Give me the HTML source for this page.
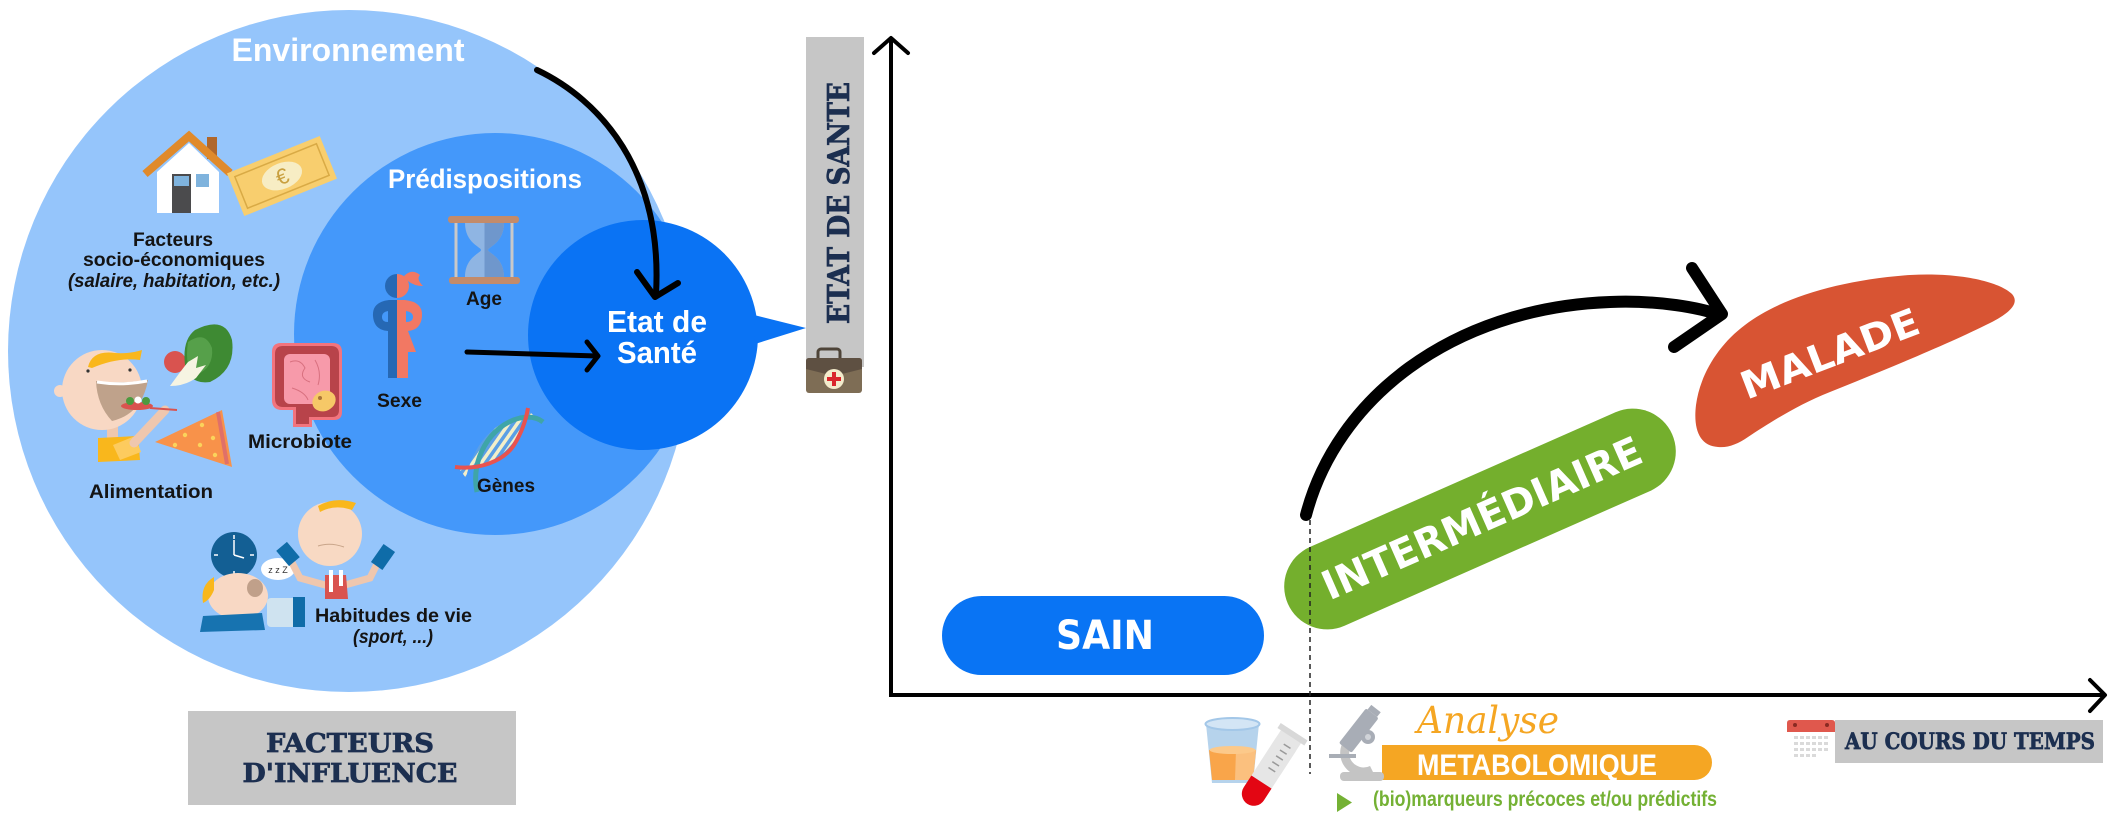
<!DOCTYPE html>
<html><head><meta charset="utf-8">
<style>
html,body{margin:0;padding:0;background:#fff;}
svg{display:block;}
text{font-family:"Liberation Sans",sans-serif;}
.slab{font-family:"DejaVu Serif",serif;font-weight:bold;fill:#1c2f50;stroke:#1c2f50;stroke-width:0.7px;}
.ana{font-family:"DejaVu Serif","Liberation Serif",serif;font-style:italic;fill:#F5A623;}
.lbl{font-weight:bold;fill:#141414;font-size:19px;}
.mont{font-family:"DejaVu Sans","Liberation Sans",sans-serif;font-weight:bold;fill:#fff;}
</style></head><body>
<svg width="2113" height="814" viewBox="0 0 2113 814" xmlns="http://www.w3.org/2000/svg">
<defs>
<pattern id="dnaS" width="7" height="7" patternUnits="userSpaceOnUse" patternTransform="rotate(35)">
<rect width="7" height="7" fill="#5a9fe6"/><rect width="3.5" height="7" fill="#f3efc9"/>
</pattern>
</defs>

<!-- circles -->
<circle cx="349" cy="351" r="341" fill="#95C5FB"/>
<circle cx="495" cy="334" r="201" fill="#4498FA"/>
<circle cx="643" cy="335" r="115" fill="#0A73F4"/>
<polygon points="754,315 806,328 755,344" fill="#0A73F4"/>

<text x="348" y="61" text-anchor="middle" font-size="32" font-weight="bold" fill="#fff" textLength="233" lengthAdjust="spacingAndGlyphs">Environnement</text>
<text x="485" y="188" text-anchor="middle" font-size="27" font-weight="bold" fill="#fff" textLength="194" lengthAdjust="spacingAndGlyphs">Prédispositions</text>
<text x="657" y="332" text-anchor="middle" font-size="31" font-weight="bold" fill="#fff" textLength="100" lengthAdjust="spacingAndGlyphs">Etat de</text>
<text x="657" y="363" text-anchor="middle" font-size="31" font-weight="bold" fill="#fff" textLength="80" lengthAdjust="spacingAndGlyphs">Santé</text>

<!-- house -->
<polygon points="157,172 189,143 219,172 219,213 157,213" fill="#fff"/>
<rect x="207" y="137" width="10" height="22" fill="#B0672B"/>
<polyline points="145,174 189,136 230,173" fill="none" stroke="#E08A2B" stroke-width="8" stroke-linejoin="miter"/>
<rect x="172" y="174" width="19" height="39" fill="#4B4B4D"/>
<rect x="174" y="176" width="15" height="10" fill="#7FB3DD"/>
<rect x="196" y="174" width="13" height="13" fill="#7FB3DD"/>
<!-- banknote -->
<g transform="translate(282,176) rotate(-22)">
<rect x="-50" y="-23" width="100" height="46" fill="#F8CE6E"/>
<rect x="-44" y="-17" width="88" height="34" fill="none" stroke="#D9AA45" stroke-width="1.5"/>
<ellipse cx="0" cy="0" rx="21" ry="13" fill="#F7EDC4"/>
<text x="0" y="8" text-anchor="middle" font-size="22" fill="#C9A040">€</text>
</g>
<text x="173" y="246" text-anchor="middle" class="lbl" textLength="80" lengthAdjust="spacingAndGlyphs">Facteurs</text>
<text x="174" y="266" text-anchor="middle" class="lbl" textLength="182" lengthAdjust="spacingAndGlyphs">socio-économiques</text>
<text x="174" y="287" text-anchor="middle" class="lbl" font-style="italic" textLength="212" lengthAdjust="spacingAndGlyphs">(salaire, habitation, etc.)</text>

<!-- alimentation man -->
<rect x="107" y="424" width="11" height="16" fill="#EFC7AE"/>
<path d="M98,438 L138,436 L140,460 L98,462 Z" fill="#F9B71C"/>
<path d="M113,445 L135,436 L141,452 L120,460 Z" fill="#FDCB5E"/>
<line x1="134" y1="443" x2="165" y2="410" stroke="#EFC7AE" stroke-width="9" stroke-linecap="round"/>
<circle cx="60" cy="391" r="6" fill="#F8D8C4"/>
<circle cx="102" cy="390" r="40" fill="#F8D8C4"/>
<path d="M96,381 Q122,384 148,380 Q142,414 112,421 Q97,405 96,381 Z" fill="#BFA28B"/>
<path d="M97,382 Q122,386 147,381" fill="none" stroke="#fff" stroke-width="3"/>
<path d="M88,367 Q92,350 115,353 Q130,354 142,350 L140,360 Q118,357 92,368 Z" fill="#F9B71C"/>
<circle cx="88" cy="371" r="1.6" fill="#333"/><circle cx="130" cy="370" r="1.6" fill="#333"/>
<ellipse cx="137" cy="406" rx="16" ry="4" fill="#D9534F"/>
<circle cx="130" cy="401" r="4" fill="#4C9A3F"/><circle cx="138" cy="400" r="3.5" fill="#fff"/><circle cx="146" cy="401" r="4" fill="#4C9A3F"/>
<line x1="150" y1="408" x2="177" y2="410" stroke="#D9534F" stroke-width="2"/>
<circle cx="175" cy="362" r="11" fill="#D9534F"/>
<path d="M195,330 Q225,315 232,340 Q236,370 210,382 Q190,385 185,365 Q182,340 195,330 Z" fill="#3E8A33"/>
<path d="M188,342 Q205,330 212,348 Q214,368 196,375 Q184,370 188,342 Z" fill="#56A04A"/>
<path d="M170,386 Q180,372 188,362 L198,356 L196,368 L206,365 L196,378 Q185,386 170,386 Z" fill="#F6F4E2"/>
<!-- pizza -->
<polygon points="155,442 222,410 232,467" fill="#F8924A"/>
<line x1="218" y1="412" x2="227" y2="464" stroke="#E07068" stroke-width="4"/>
<circle cx="185" cy="435" r="2.2" fill="#FBD35B"/><circle cx="202" cy="425" r="2.2" fill="#FBD35B"/><circle cx="200" cy="445" r="2.2" fill="#FBD35B"/><circle cx="213" cy="438" r="2.2" fill="#FBD35B"/><circle cx="175" cy="445" r="2.2" fill="#FBD35B"/><circle cx="215" cy="455" r="2.2" fill="#FBD35B"/>
<text x="151" y="498" text-anchor="middle" class="lbl" textLength="124" lengthAdjust="spacingAndGlyphs">Alimentation</text>

<!-- intestine -->
<path d="M272,352 Q272,343 281,343 L333,343 Q342,343 342,352 L342,412 Q342,420 334,420 L312,420 L312,427 L293,427 L293,410 L282,410 Q272,410 272,400 Z" fill="#F2747E"/>
<path d="M275,354 Q275,346 283,346 L331,346 Q339,346 339,354 L339,410 Q339,417 332,417 L309,417 L309,424 L296,424 L296,407 L283,407 Q275,407 275,398 Z" fill="#B8434A"/>
<rect x="284" y="354" width="46" height="50" rx="6" fill="#F79AAA"/>
<path d="M290,362 Q300,358 305,368 Q298,378 310,382 M315,360 Q322,372 318,385 M292,388 Q305,392 308,400" fill="none" stroke="#D8707F" stroke-width="1"/>
<ellipse cx="324" cy="401" rx="12" ry="10" fill="#F6C867" transform="rotate(-25 324 401)"/>
<circle cx="320" cy="398" r="2" fill="#A9743A"/>
<text x="300" y="448" text-anchor="middle" class="lbl" textLength="104" lengthAdjust="spacingAndGlyphs">Microbiote</text>

<!-- sex figure -->
<path d="M397,274 A12,12 0 0 0 397,298 Z" fill="#2668B4"/>
<path d="M397,274 A12,12 0 0 1 397,298 Z" fill="#F27863"/>
<path d="M404,276 Q412,268 420,275 Q416,279 423,286 Q414,286 408,281 Z" fill="#F27863"/>
<path d="M397,300 L389,300 Q372,302 373,316 Q374,330 388,331 L388,378 L397,378 Z" fill="#2668B4"/>
<path d="M388,311 Q382,312 382,317 Q382,322 388,322 Z" fill="#4498FA"/>
<path d="M397,300 L405,300 Q423,302 422,316 Q421,330 408,331 L416,352 L408,352 L408,378 L397,378 Z" fill="#F27863"/>
<path d="M406,311 Q413,312 413,317 Q413,322 406,322 Z" fill="#4498FA"/>
<text x="399.5" y="407" text-anchor="middle" class="lbl" textLength="45" lengthAdjust="spacingAndGlyphs">Sexe</text>

<!-- hourglass -->
<line x1="456" y1="218" x2="456" y2="282" stroke="#C9C9C9" stroke-width="3"/>
<line x1="512" y1="218" x2="512" y2="282" stroke="#C9C9C9" stroke-width="3"/>
<path d="M465,223 L504,223 C504,243 488,247 488,250 C488,253 504,257 504,277 L465,277 C465,257 481,253 481,250 C481,247 465,243 465,223 Z" fill="#8FB5E3"/>
<path d="M484.5,223 L504,223 C504,243 488,247 488,250 C488,253 504,257 504,277 L484.5,277 Z" fill="#6F97CC"/>
<rect x="448" y="216" width="71" height="7" rx="3" fill="#C38B6A"/>
<rect x="449" y="277" width="71" height="7" rx="3" fill="#C38B6A"/>
<text x="484" y="305" text-anchor="middle" class="lbl" textLength="36" lengthAdjust="spacingAndGlyphs">Age</text>

<!-- DNA -->
<path d="M466,478 C472,450 488,428 510,420 C522,416 532,418 540,422 L528,410 C524,430 512,450 490,462 C478,468 468,468 460,470 Z" fill="url(#dnaS)"/>
<path d="M477,492 C470,460 490,425 520,418 C530,416 538,418 543,422" fill="none" stroke="#3FA5A8" stroke-width="5"/>
<path d="M455,467 C478,470 503,462 514,445 C522,432 526,420 528,408" fill="none" stroke="#E8534F" stroke-width="4"/>
<text x="506" y="492" text-anchor="middle" class="lbl" textLength="58" lengthAdjust="spacingAndGlyphs">Gènes</text>

<!-- habitudes -->
<circle cx="234" cy="555" r="23" fill="#135F94"/>
<g stroke="#fff" stroke-width="1.5">
<line x1="234" y1="535" x2="234" y2="539"/><line x1="234" y1="571" x2="234" y2="575"/><line x1="214" y1="555" x2="218" y2="555"/><line x1="250" y1="555" x2="254" y2="555"/>
<line x1="234" y1="555" x2="234" y2="540"/><line x1="234" y1="555" x2="244" y2="558"/>
</g>
<ellipse cx="238" cy="596" rx="30" ry="23" fill="#F8D8C4"/>
<path d="M214,577 Q200,585 203,603 Q210,600 214,590 Z" fill="#F9B71C"/>
<ellipse cx="255" cy="588" rx="8" ry="9" fill="#C0A08A"/>
<path d="M203,616 L262,613 L265,630 L200,632 Z" fill="#1773B0"/>
<rect x="267" y="598" width="38" height="29" rx="4" fill="#CFE3F0"/>
<rect x="293" y="597" width="12" height="30" fill="#0F6CA8"/>
<ellipse cx="278" cy="569" rx="17" ry="11" fill="#fff"/>
<text x="278" y="573" text-anchor="middle" font-size="9" fill="#333">z z Z</text>
<path d="M325,585 L300,578 L288,555" fill="none" stroke="#EFC7AE" stroke-width="7" stroke-linecap="round"/>
<path d="M345,585 L370,578 L380,558" fill="none" stroke="#EFC7AE" stroke-width="7" stroke-linecap="round"/>
<rect x="281" y="544" width="14" height="20" fill="#0F6CA8" transform="rotate(-40 288 554)"/>
<rect x="376" y="546" width="14" height="22" fill="#0F6CA8" transform="rotate(35 383 557)"/>
<circle cx="330" cy="534" r="32" fill="#F8D9C3"/>
<path d="M318,506 Q335,496 356,503 L352,510 Q335,504 320,512 Z" fill="#F9B71C"/>
<path d="M318,546 Q330,542 344,547" fill="none" stroke="#C9A58A" stroke-width="1"/>
<path d="M325,575 L346,575 L348,599 L325,599 Z" fill="#D9534F"/>
<rect x="329" y="570" width="4" height="22" fill="#fff"/><rect x="339" y="570" width="4" height="16" fill="#fff"/>
<text x="393.5" y="622" text-anchor="middle" class="lbl" textLength="157" lengthAdjust="spacingAndGlyphs">Habitudes de vie</text>
<text x="393" y="643" text-anchor="middle" class="lbl" font-style="italic" textLength="80" lengthAdjust="spacingAndGlyphs">(sport, ...)</text>

<!-- arrows left -->
<path d="M537,70 C600,100 663,170 656,294" fill="none" stroke="#000" stroke-width="6" stroke-linecap="round"/>
<polyline points="637,272 655,297 678,283" fill="none" stroke="#000" stroke-width="6" stroke-linecap="round" stroke-linejoin="round"/>
<line x1="467" y1="352" x2="597" y2="356" stroke="#000" stroke-width="5" stroke-linecap="round"/>
<polyline points="587,342 598,356 587,370" fill="none" stroke="#000" stroke-width="5" stroke-linecap="round" stroke-linejoin="round"/>

<!-- facteurs box -->
<rect x="188" y="711" width="328" height="94" fill="#C6C6C6"/>
<text x="350" y="752" text-anchor="middle" class="slab" font-size="26" textLength="168" lengthAdjust="spacingAndGlyphs">FACTEURS</text>
<text x="350" y="782" text-anchor="middle" class="slab" font-size="26" textLength="215" lengthAdjust="spacingAndGlyphs">D'INFLUENCE</text>

<!-- ETAT DE SANTE box -->
<rect x="806" y="37" width="58" height="330" fill="#C6C6C6"/>
<text transform="translate(849,203) rotate(-90)" x="0" y="0" text-anchor="middle" class="slab" font-size="30" textLength="242" lengthAdjust="spacingAndGlyphs">ETAT DE SANTE</text>
<rect x="818" y="349" width="22" height="14" rx="3" fill="none" stroke="#4E4438" stroke-width="3"/>
<rect x="806" y="358" width="56" height="35" rx="3" fill="#7E6D55"/>
<path d="M806,361 Q806,358 809,358 L859,358 Q862,358 862,361 L862,369 L834,376 L806,369 Z" fill="#5E5042"/>
<circle cx="834" cy="379" r="10" fill="#F3EBCB"/>
<rect x="832" y="372" width="4" height="14" fill="#D9262B"/><rect x="827" y="377" width="14" height="4" fill="#D9262B"/>

<!-- axes -->
<line x1="891" y1="697" x2="891" y2="38" stroke="#000" stroke-width="4"/>
<polyline points="874,53 891,38 908,53" fill="none" stroke="#000" stroke-width="4" stroke-linecap="round" stroke-linejoin="round"/>
<line x1="889" y1="695" x2="2104" y2="695" stroke="#000" stroke-width="4"/>
<polyline points="2090,680 2105,695 2090,711" fill="none" stroke="#000" stroke-width="4" stroke-linecap="round" stroke-linejoin="round"/>

<!-- SAIN -->
<rect x="942" y="596" width="322" height="79" rx="39.5" fill="#0974F4"/>
<text x="1105" y="649" text-anchor="middle" class="mont" font-size="40" textLength="98" lengthAdjust="spacingAndGlyphs">SAIN</text>

<!-- INTERMEDIAIRE -->
<g transform="translate(1480,519) rotate(-23.8)">
<rect x="-210" y="-43" width="420" height="86" rx="43" fill="#74AF2D"/>
<text x="2" y="14" text-anchor="middle" class="mont" font-size="40" textLength="345" lengthAdjust="spacingAndGlyphs">INTERMÉDIAIRE</text>
</g>

<!-- MALADE -->
<path d="M1718,447 C1700,446 1693,430 1696,405 C1700,375 1718,345 1745,325 C1780,298 1840,280 1910,275 C1960,272 2000,282 2012,294 C2020,303 2010,313 1990,323 C1950,343 1890,368 1830,392 C1795,406 1768,424 1748,437 C1738,444 1728,448 1718,447 Z" fill="#D85433"/>
<text transform="translate(1830,354) rotate(-21)" x="0" y="13" text-anchor="middle" class="mont" font-size="38" textLength="188" lengthAdjust="spacingAndGlyphs">MALADE</text>

<!-- arc arrow -->
<path d="M1306,515 C1336,400 1450,308 1610,302 C1660,300 1700,308 1720,315" fill="none" stroke="#000" stroke-width="12" stroke-linecap="round"/>
<polyline points="1692,268 1722,314 1674,347" fill="none" stroke="#000" stroke-width="12" stroke-linecap="round" stroke-linejoin="round"/>

<!-- dashed -->
<line x1="1310" y1="520" x2="1310" y2="774" stroke="#222" stroke-width="1.5" stroke-dasharray="5,4"/>

<!-- glass -->
<path d="M1206,724 L1259,724 L1253,783 L1212,783 Z" fill="#B6D3EC"/>
<path d="M1209,750 L1256,750 L1253,780 L1212,780 Z" fill="#F9A54A"/>
<path d="M1236,750 L1256,750 L1253,780 L1235,780 Z" fill="#FBC07E"/>
<ellipse cx="1232.5" cy="750" rx="23" ry="4" fill="#FCC98A"/>
<ellipse cx="1232.5" cy="724" rx="27" ry="6" fill="#D3E5F5" stroke="#A3C7E8" stroke-width="2"/>
<!-- tube -->
<g transform="translate(1268,772) rotate(33)">
<rect x="-12" y="-44" width="24" height="82" rx="12" fill="#E6E6E6"/>
<rect x="-12" y="-44" width="24" height="40" fill="#E6E6E6"/>
<path d="M-12,12 L12,12 L12,26 A12,12 0 0 1 -12,26 Z" fill="#E30613"/>
<rect x="-16" y="-48" width="32" height="6" fill="#D8D8D8"/>
<g stroke="#9A9A9A" stroke-width="1.5"><line x1="-2" y1="-32" x2="6" y2="-32"/><line x1="-2" y1="-25" x2="6" y2="-25"/><line x1="-2" y1="-18" x2="6" y2="-18"/><line x1="-2" y1="-11" x2="6" y2="-11"/><line x1="-2" y1="-4" x2="6" y2="-4"/></g>
</g>

<!-- orange bar -->
<rect x="1382" y="745" width="330" height="35" rx="17.5" fill="#F5A623"/>
<rect x="1382" y="745" width="30" height="35" fill="#F5A623"/>
<!-- microscope -->
<rect x="1340" y="772" width="44" height="9" rx="4" fill="#C4C4C4"/>
<path d="M1370,735 A19,19 0 1 0 1372,770" fill="none" stroke="#C4C4C4" stroke-width="9"/>
<line x1="1329" y1="756" x2="1356" y2="756" stroke="#A9AEB6" stroke-width="4"/>
<g transform="translate(1360,729) rotate(-52)">
<rect x="-24" y="-8" width="44" height="16" rx="2" fill="#A8ADB6"/>
<rect x="20" y="-6" width="6" height="12" fill="#A8ADB6"/>
</g>
<circle cx="1368" cy="737" r="7" fill="#A8ADB6"/><circle cx="1368" cy="737" r="3" fill="#D0D3D8"/>

<text x="1417" y="733" class="ana" font-size="37" textLength="142" lengthAdjust="spacingAndGlyphs">Analyse</text>
<text x="1417" y="775" font-size="30" font-weight="bold" fill="#fff" textLength="240" lengthAdjust="spacingAndGlyphs">METABOLOMIQUE</text>
<polygon points="1337,793 1352,802.5 1337,812" fill="#74B134"/>
<text x="1373" y="806" font-size="21" font-weight="bold" fill="#74B134" textLength="344" lengthAdjust="spacingAndGlyphs">(bio)marqueurs précoces et/ou prédictifs</text>

<!-- au cours du temps -->
<rect x="1835" y="720" width="268" height="43" fill="#C6C6C6"/>
<rect x="1787" y="720" width="48" height="43" rx="3" fill="#fff"/>
<path d="M1787,732 L1787,723 Q1787,720 1790,720 L1832,720 Q1835,720 1835,723 L1835,732 Z" fill="#E0584D"/>
<circle cx="1795" cy="725" r="2" fill="#8A2A22"/><circle cx="1827" cy="725" r="2" fill="#8A2A22"/>
<g fill="#DADADA">
<rect x="1794" y="736" width="4" height="3"/><rect x="1800" y="736" width="4" height="3"/><rect x="1806" y="736" width="4" height="3"/><rect x="1812" y="736" width="4" height="3"/><rect x="1818" y="736" width="4" height="3"/><rect x="1824" y="736" width="4" height="3"/>
<rect x="1794" y="742" width="4" height="3"/><rect x="1800" y="742" width="4" height="3"/><rect x="1806" y="742" width="4" height="3"/><rect x="1812" y="742" width="4" height="3"/><rect x="1818" y="742" width="4" height="3"/><rect x="1824" y="742" width="4" height="3"/>
<rect x="1794" y="748" width="4" height="3"/><rect x="1800" y="748" width="4" height="3"/><rect x="1806" y="748" width="4" height="3"/><rect x="1812" y="748" width="4" height="3"/><rect x="1818" y="748" width="4" height="3"/><rect x="1824" y="748" width="4" height="3"/>
<rect x="1794" y="754" width="4" height="3"/><rect x="1800" y="754" width="4" height="3"/><rect x="1806" y="754" width="4" height="3"/><rect x="1812" y="754" width="4" height="3"/>
</g>
<text x="1845" y="749" class="slab" font-size="22" textLength="250" lengthAdjust="spacingAndGlyphs">AU COURS DU TEMPS</text>
</svg>
</body></html>
